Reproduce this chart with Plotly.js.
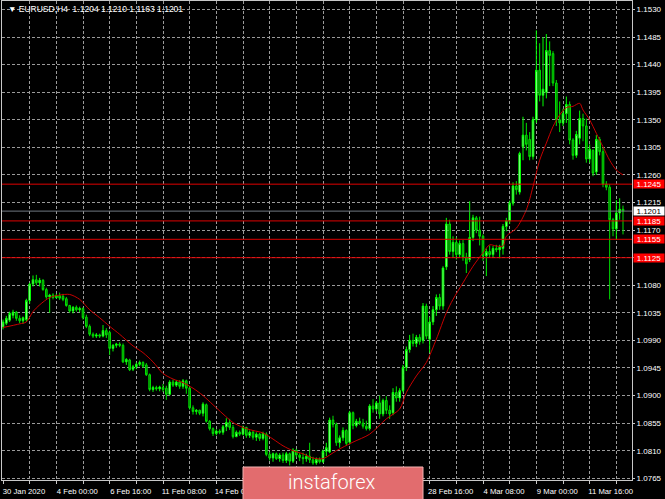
<!DOCTYPE html>
<html><head><meta charset="utf-8">
<script src="https://cdn.plot.ly/plotly-3.0.1.min.js"></script>
<style>html,body{margin:0;padding:0;background:#000;}#chart{width:665px;height:499px;}</style>
</head><body><div id="chart"></div>
<script>
const symbol = 'EURUSD,H4';
const openP = [1.1012,1.1018,1.1023,1.1031,1.1036,1.1026,1.1022,1.1024,1.1055,1.1082,1.1089,1.1084,1.1088,1.1073,1.1061,1.1064,1.1060,1.1063,1.1062,1.1058,1.1047,1.1038,1.1044,1.1040,1.1042,1.1028,1.1013,1.1000,1.0997,1.0999,1.0997,1.1006,1.1003,1.0977,1.0982,1.0984,1.0982,1.0955,1.0958,1.0943,1.0947,1.0951,1.0954,1.0950,1.0934,1.0910,1.0913,1.0911,1.0913,1.0912,1.0902,1.0922,1.0917,1.0922,1.0915,1.0924,1.0912,1.0880,1.0874,1.0876,1.0871,1.0885,1.0858,1.0846,1.0838,1.0842,1.0840,1.0849,1.0856,1.0848,1.0833,1.0840,1.0837,1.0848,1.0835,1.0840,1.0832,1.0837,1.0830,1.0837,1.0804,1.0798,1.0805,1.0797,1.0803,1.0794,1.0805,1.0793,1.0811,1.0803,1.0799,1.0797,1.0801,1.0795,1.0790,1.0796,1.0792,1.0809,1.0808,1.0860,1.0853,1.0823,1.0831,1.0843,1.0824,1.0872,1.0851,1.0858,1.0855,1.0850,1.0846,1.0883,1.0878,1.0888,1.0870,1.0892,1.0876,1.0872,1.0905,1.0896,1.0908,1.0946,1.0975,1.0990,1.0985,1.0995,1.0990,1.1046,1.0992,1.1020,1.1040,1.1060,1.1046,1.1110,1.1180,1.1135,1.1150,1.1130,1.1148,1.1126,1.1122,1.1158,1.1190,1.1170,1.1160,1.1128,1.1135,1.1130,1.1140,1.1138,1.1140,1.1176,1.1185,1.1214,1.1242,1.1232,1.1306,1.1325,1.1318,1.1290,1.1350,1.1431,1.1390,1.1395,1.1463,1.1458,1.1410,1.1350,1.1345,1.1360,1.1375,1.1317,1.1292,1.1320,1.1352,1.1340,1.1286,1.1300,1.1265,1.1318,1.1298,1.1245,1.1240,1.1187,1.1172,1.1198,1.1204];
const highP = [1.1024,1.1030,1.1037,1.1040,1.1038,1.1031,1.1029,1.1058,1.1084,1.1096,1.1097,1.1092,1.1090,1.1076,1.1066,1.1067,1.1066,1.1068,1.1066,1.1061,1.1048,1.1046,1.1047,1.1045,1.1044,1.1032,1.1016,1.1003,1.1002,1.1001,1.1015,1.1010,1.1006,1.0984,1.0986,1.0987,1.0985,1.0961,1.0960,1.0950,1.0954,1.0957,1.0956,1.0953,1.0936,1.0916,1.0916,1.0916,1.0919,1.0916,1.0925,1.0926,1.0925,1.0925,1.0927,1.0926,1.0914,1.0884,1.0878,1.0877,1.0889,1.0887,1.0860,1.0848,1.0845,1.0845,1.0852,1.0863,1.0862,1.0852,1.0843,1.0843,1.0851,1.0849,1.0843,1.0843,1.0840,1.0839,1.0841,1.0840,1.0808,1.0807,1.0807,1.0806,1.0807,1.0808,1.0807,1.0814,1.0813,1.0806,1.0807,1.0805,1.0823,1.0800,1.0799,1.0799,1.0812,1.0823,1.0864,1.0867,1.0856,1.0835,1.0848,1.0845,1.0875,1.0874,1.0862,1.0864,1.0862,1.0859,1.0886,1.0894,1.0891,1.0900,1.0895,1.0899,1.0884,1.0912,1.0915,1.0912,1.0950,1.0980,1.0999,1.1001,1.0999,1.1000,1.1051,1.1050,1.1028,1.1046,1.1065,1.1066,1.1111,1.1190,1.1187,1.1160,1.1158,1.1153,1.1154,1.1133,1.1217,1.1195,1.1193,1.1192,1.1163,1.1140,1.1145,1.1144,1.1146,1.1146,1.1180,1.1190,1.1218,1.1248,1.1250,1.1298,1.1355,1.1345,1.1330,1.1355,1.1496,1.1475,1.1485,1.1490,1.1478,1.1462,1.1415,1.1380,1.1368,1.1388,1.1380,1.1320,1.1332,1.1365,1.1360,1.1352,1.1310,1.1302,1.1325,1.1322,1.1305,1.1250,1.1245,1.1190,1.1219,1.1222,1.1210];
const lowP = [1.1008,1.1015,1.1020,1.1026,1.1022,1.1018,1.1017,1.1020,1.1050,1.1078,1.1080,1.1078,1.1071,1.1058,1.1035,1.1057,1.1058,1.1056,1.1054,1.1045,1.1035,1.1034,1.1037,1.1036,1.1024,1.1010,1.0997,1.0994,1.0994,1.0994,1.0995,1.0994,1.0966,1.0972,1.0978,1.0979,1.0953,1.0950,1.0940,1.0940,1.0943,1.0948,1.0945,1.0932,1.0907,1.0906,1.0908,1.0907,1.0906,1.0893,1.0900,1.0914,1.0914,1.0911,1.0911,1.0903,1.0877,1.0869,1.0869,1.0868,1.0866,1.0856,1.0843,1.0834,1.0835,1.0837,1.0836,1.0842,1.0844,1.0830,1.0832,1.0834,1.0835,1.0831,1.0831,1.0828,1.0826,1.0826,1.0827,1.0801,1.0794,1.0792,1.0795,1.0792,1.0790,1.0790,1.0786,1.0790,1.0799,1.0793,1.0788,1.0792,1.0790,1.0787,1.0787,1.0789,1.0790,1.0801,1.0806,1.0848,1.0818,1.0815,1.0826,1.0818,1.0820,1.0845,1.0848,1.0852,1.0846,1.0843,1.0843,1.0872,1.0874,1.0862,1.0866,1.0870,1.0862,1.0868,1.0890,1.0890,1.0905,1.0940,1.0970,1.0980,1.0979,1.0983,1.0985,1.0992,1.0970,1.1015,1.1030,1.1040,1.1040,1.1105,1.1130,1.1125,1.1122,1.1125,1.1120,1.1100,1.1118,1.1152,1.1165,1.1145,1.1120,1.1095,1.1125,1.1126,1.1134,1.1124,1.1130,1.1168,1.1180,1.1210,1.1228,1.1228,1.1284,1.1300,1.1284,1.1285,1.1345,1.1380,1.1372,1.1385,1.1405,1.1405,1.1340,1.1330,1.1340,1.1345,1.1310,1.1285,1.1288,1.1310,1.1315,1.1280,1.1280,1.1258,1.1260,1.1292,1.1240,1.1235,1.1057,1.1160,1.1154,1.1187,1.1163];
const closeP = [1.1020,1.1026,1.1034,1.1036,1.1026,1.1022,1.1027,1.1055,1.1082,1.1089,1.1084,1.1088,1.1073,1.1061,1.1064,1.1060,1.1063,1.1059,1.1057,1.1047,1.1038,1.1044,1.1040,1.1042,1.1027,1.1013,1.1000,1.0997,1.0999,1.0997,1.1006,1.0999,1.0977,1.0982,1.0984,1.0982,1.0955,1.0959,1.0942,1.0947,1.0951,1.0954,1.0948,1.0934,1.0910,1.0913,1.0911,1.0914,1.0910,1.0902,1.0922,1.0917,1.0922,1.0915,1.0924,1.0912,1.0880,1.0874,1.0876,1.0871,1.0886,1.0858,1.0846,1.0838,1.0842,1.0840,1.0849,1.0856,1.0848,1.0833,1.0840,1.0837,1.0848,1.0835,1.0840,1.0832,1.0837,1.0830,1.0838,1.0804,1.0798,1.0805,1.0797,1.0803,1.0794,1.0805,1.0793,1.0811,1.0803,1.0799,1.0797,1.0801,1.0795,1.0790,1.0796,1.0792,1.0809,1.0815,1.0860,1.0853,1.0823,1.0831,1.0843,1.0822,1.0872,1.0851,1.0858,1.0855,1.0850,1.0846,1.0883,1.0878,1.0888,1.0870,1.0892,1.0876,1.0870,1.0905,1.0896,1.0908,1.0946,1.0975,1.0990,1.0985,1.0995,1.0988,1.1046,1.0997,1.1020,1.1040,1.1060,1.1046,1.1108,1.1180,1.1135,1.1150,1.1130,1.1148,1.1126,1.1115,1.1158,1.1190,1.1170,1.1160,1.1128,1.1135,1.1130,1.1140,1.1138,1.1142,1.1176,1.1185,1.1214,1.1242,1.1236,1.1295,1.1325,1.1310,1.1290,1.1350,1.1431,1.1390,1.1400,1.1463,1.1455,1.1410,1.1350,1.1345,1.1360,1.1375,1.1317,1.1292,1.1326,1.1352,1.1340,1.1286,1.1302,1.1263,1.1318,1.1298,1.1245,1.1240,1.1187,1.1172,1.1198,1.1204,1.1201];

const maBars = [0,5,7,9,11,14,17,20,23,26,29,32,35,39,42,45,48,51,54,57,60,63,66,69,72,75,78,81,84,87,90,93,96,100,105,110,115,119,121,124,127,130,133,135,138,141,144,146,148,150,151,154,157,159,161,163,165,167,169,171,173,174,176,178,180,182,184,186];
const maValues = [1.1011,1.1017,1.1020,1.1037,1.1048,1.1060,1.1064,1.1065,1.1057,1.1040,1.1027,1.1013,1.1000,1.0981,1.0970,1.0955,1.0936,1.0927,1.0921,1.0912,1.0900,1.0885,1.0870,1.0856,1.0848,1.0843,1.0839,1.0829,1.0818,1.0810,1.0805,1.0798,1.0797,1.0810,1.0824,1.0837,1.0862,1.0878,1.0905,1.0932,1.0954,1.0992,1.1035,1.1057,1.1084,1.1111,1.1133,1.1146,1.1144,1.1144,1.1160,1.1173,1.1203,1.1241,1.1284,1.1312,1.1339,1.1358,1.1370,1.1372,1.1377,1.1366,1.1350,1.1328,1.1306,1.1284,1.1268,1.1260];

const levels = [1.1245, 1.1185, 1.1155, 1.1125];
const priceTicks = [1.0765,1.0810,1.0855,1.0900,1.0945,1.0990,1.1035,1.1080,1.1125,1.1170,1.1215,1.1260,1.1305,1.1350,1.1395,1.1440,1.1485,1.1530];
const gridBars = [0,8,16,24,32,40,48,56,64,72,80,88,96,104,112,120,128,136,144,152,160,168,176,184];
// labels visible in the picture (the ones under the watermark box are not shown)
const dateBars = [0,16,32,48,64,128,144,160,176];
const dateLabels = ['30 Jan 2020','4 Feb 00:00','6 Feb 16:00','11 Feb 08:00','14 Feb 00:00','28 Feb 16:00','4 Mar 08:00','9 Mar 00:00','11 Mar 16:00'];
const watermark = 'instaforex';

const bars = openP.map((_, i) => i);
const last = openP.length - 1;
const bid = closeP[last];
const tickText = gridBars.map(b => { const k = dateBars.indexOf(b); return k >= 0 ? dateLabels[k] : ''; });

const candles = {
  type: 'candlestick', x: bars, open: openP, high: highP, low: lowP, close: closeP,
  increasing: {line: {color: '#00ff00', width: 1}, fillcolor: '#b8ffb8'},
  decreasing: {line: {color: '#00e000', width: 1}, fillcolor: '#007a00'},
  whiskerwidth: 0, hoverinfo: 'skip', showlegend: false
};
const ma = {
  type: 'scatter', mode: 'lines', x: maBars, y: maValues,
  line: {color: '#c80000', width: 1, shape: 'spline', smoothing: 0.8},
  hoverinfo: 'skip', showlegend: false
};

const shapes = levels.map(v => ({type: 'line', xref: 'paper', x0: 0, x1: 1, yref: 'y', y0: v, y1: v,
  line: {color: '#e00000', width: 1}, layer: 'above'}));
shapes.push({type: 'line', xref: 'paper', x0: 0, x1: 1, yref: 'y', y0: bid, y1: bid,
  line: {color: '#707880', width: 1}, layer: 'above'});
shapes.push({type: 'rect', xref: 'paper', yref: 'paper', x0: 241/630, x1: 421/630, y0: -0.06, y1: 13/479,
  fillcolor: '#e26c6e', line: {color: '#f2b2b2', width: 1}, layer: 'above'});

const annotations = [];
annotations.push({xref: 'paper', yref: 'paper', x: 4/630, y: 471/479, xanchor: 'left', yanchor: 'middle',
  text: '▼ ' + symbol + '  ' + [openP[last], highP[last], lowP[last], closeP[last]].map(v => v.toFixed(4)).join(' '),
  showarrow: false, font: {family: 'Liberation Sans, Arial, sans-serif', size: 8.5, color: '#ffffff'}});
levels.forEach(v => annotations.push({xref: 'paper', yref: 'y', x: 1, y: v, xanchor: 'left', yanchor: 'middle', xshift: 1,
  text: v.toFixed(4), showarrow: false, bgcolor: '#ff0000', borderpad: 0, width: 30, height: 8,
  font: {family: 'Liberation Sans, Arial, sans-serif', size: 8, color: '#ffffff'}}));
annotations.push({xref: 'paper', yref: 'y', x: 1, y: bid, xanchor: 'left', yanchor: 'middle', xshift: 1,
  text: bid.toFixed(4), showarrow: false, bgcolor: '#ffffff', borderpad: 0, width: 30, height: 8,
  font: {family: 'Liberation Sans, Arial, sans-serif', size: 8, color: '#000000'}});
annotations.push({xref: 'paper', yref: 'paper', x: 330/630, y: -2/479, xanchor: 'center', yanchor: 'middle',
  text: watermark, showarrow: false,
  font: {family: 'Roboto, Open Sans, sans-serif', size: 20, color: '#ffffff', weight: 300}});

const layout = {
  width: 665, height: 499,
  margin: {l: 2, r: 33, t: 1, b: 19, pad: 0},
  paper_bgcolor: '#000000', plot_bgcolor: '#000000',
  showlegend: false,
  xaxis: {
    type: 'linear', range: [-0.3, 188.7], rangeslider: {visible: false},
    tickmode: 'array', tickvals: gridBars, ticktext: tickText,
    showgrid: true, gridcolor: '#9a9a9a', griddash: '3px,2px', gridwidth: 1,
    zeroline: false, showline: true, mirror: true, linecolor: '#c8c8c8', linewidth: 1,
    ticks: 'outside', ticklen: 3, tickcolor: '#c8c8c8', ticklabelshift: 21, ticklabelstandoff: 1,
    tickfont: {family: 'Liberation Sans, Arial, sans-serif', size: 7.7, color: '#ffffff'},
    fixedrange: true
  },
  yaxis: {
    type: 'linear', side: 'right', range: [1.07622, 1.15439],
    tickmode: 'array', tickvals: priceTicks, tickformat: '.4f',
    showgrid: true, gridcolor: '#9a9a9a', griddash: '3px,2px', gridwidth: 1,
    zeroline: false, showline: true, mirror: true, linecolor: '#c8c8c8', linewidth: 1,
    ticks: 'outside', ticklen: 2, tickcolor: '#c8c8c8',
    tickfont: {family: 'Liberation Sans, Arial, sans-serif', size: 8, color: '#ffffff'},
    fixedrange: true
  },
  shapes: shapes,
  annotations: annotations,
  hovermode: false
};

Plotly.newPlot('chart', [candles, ma], layout, {staticPlot: true, displayModeBar: false});
</script>
</body></html>
